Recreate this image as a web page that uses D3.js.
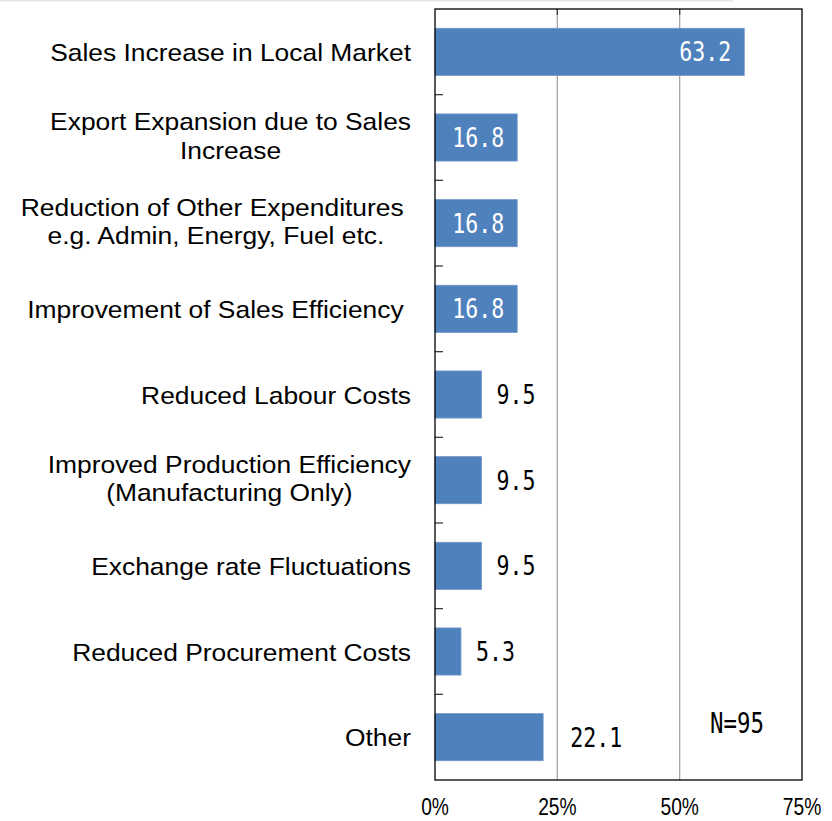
<!DOCTYPE html>
<html>
<head>
<meta charset="utf-8">
<script src="https://cdnjs.cloudflare.com/ajax/libs/d3/7.8.5/d3.min.js"></script>
<style>
  body { margin: 0; background: #fff; }
  svg { display: block; }
</style>
</head>
<body>
<div id="chart"></div>
<script>
var categories = [
    ["Sales Increase in Local Market"],
    ["Export Expansion due to Sales", "Increase"],
    ["Reduction of Other Expenditures ", "e.g. Admin, Energy, Fuel etc."],
    ["Improvement of Sales Efficiency "],
    ["Reduced Labour Costs"],
    ["Improved Production Efficiency", "(Manufacturing Only)"],
    ["Exchange rate Fluctuations"],
    ["Reduced Procurement Costs"],
    ["Other"]
];
var values = [63.2, 16.8, 16.8, 16.8, 9.5, 9.5, 9.5, 5.3, 22.1];
var xTicks = [0, 25, 50, 75];
var note = "N=95";

var margin = { top: 9, right: 30, bottom: 41, left: 435 },
    width = 832 - margin.left - margin.right,
    height = 821 - margin.top - margin.bottom;

var svg = d3.select("#chart")
    .append("svg")
    .attr("width", 832)
    .attr("height", 821);

// faint page edge at the top
svg.append("line")
    .attr("x1", 0).attr("x2", 733)
    .attr("y1", 0.5).attr("y2", 0.5)
    .attr("stroke", "#e8e8e8")
    .attr("stroke-width", 2);

var chart = svg.append("g")
    .attr("transform", "translate(" + margin.left + "," + margin.top + ")");

var data = values.map(function (v, i) { return { key: i, lines: categories[i], value: v }; });

var x = d3.scaleLinear()
    .domain([0, 75])
    .range([0, width]);

var y = d3.scaleBand()
    .domain(data.map(function (d) { return d.key; }))
    .range([0, height])
    .paddingInner(0.45)
    .paddingOuter(0.225);

// gridlines
chart.selectAll(".grid")
    .data(xTicks.slice(1, -1))
    .enter()
    .append("line")
    .attr("x1", function (d) { return x(d); })
    .attr("x2", function (d) { return x(d); })
    .attr("y1", 0)
    .attr("y2", height)
    .attr("stroke", "#a6a6a6")
    .attr("stroke-width", 1.3);

chart.selectAll(".gridtop")
    .data(xTicks.slice(1, -1))
    .enter()
    .append("line")
    .attr("x1", function (d) { return x(d); })
    .attr("x2", function (d) { return x(d); })
    .attr("y1", 0)
    .attr("y2", 6)
    .attr("stroke", "#404040")
    .attr("stroke-width", 1.3);

// bars
chart.selectAll(".bar")
    .data(data)
    .enter()
    .append("rect")
    .attr("x", x(0))
    .attr("y", function (d) { return y(d.key); })
    .attr("width", function (d) { return x(d.value) - x(0); })
    .attr("height", y.bandwidth())
    .attr("fill", "#4f81bd")
    .attr("stroke", "#7396c8")
    .attr("stroke-width", 0.8);

// category boundary ticks on the left axis
var step = y.step();
chart.selectAll(".ytick")
    .data(d3.range(1, data.length))
    .enter()
    .append("line")
    .attr("x1", 0)
    .attr("x2", 8)
    .attr("y1", function (i) { return y(i) - step * y.paddingInner() / 2; })
    .attr("y2", function (i) { return y(i) - step * y.paddingInner() / 2; })
    .attr("stroke", "#404040")
    .attr("stroke-width", 1.3);

// plot border
chart.append("rect")
    .attr("x", 0)
    .attr("y", 0)
    .attr("width", width)
    .attr("height", height)
    .attr("fill", "none")
    .attr("stroke", "#000")
    .attr("stroke-width", 1.3);

// value labels (narrow monospace look)
var numFont = "'DejaVu Sans Mono', monospace";
chart.selectAll(".val")
    .data(data)
    .enter()
    .append("text")
    .attr("transform", function (d, i) {
        var inside = i < 4;
        var px = inside ? x(d.value) - 13 : x(d.value) + (d.value > 20 ? 27 : 15);
        return "translate(" + px + "," + (y(d.key) + y.bandwidth() / 2 + 9.5) + ") scale(0.8,1)";
    })
    .attr("text-anchor", function (d, i) { return i < 4 ? "end" : "start"; })
    .attr("font-family", numFont)
    .attr("font-size", "27px")
    .attr("fill", function (d, i) { return i < 4 ? "#fff" : "#000"; })
    .text(function (d) { return d3.format(".1f")(d.value); });

// x tick labels
chart.selectAll(".xlab")
    .data(xTicks)
    .enter()
    .append("text")
    .attr("transform", function (d) { return "translate(" + x(d) + "," + (height + 35) + ") scale(0.8,1)"; })
    .attr("text-anchor", "middle")
    .attr("font-family", "'Liberation Sans', Arial, sans-serif")
    .attr("font-size", "24px")
    .attr("fill", "#000")
    .text(function (d) { return d + "%"; });

// N note
chart.append("text")
    .attr("transform", "translate(" + x(61.7) + "," + (y(data.length - 1) + 19) + ") scale(0.8,1)")
    .attr("text-anchor", "middle")
    .attr("font-family", numFont)
    .attr("font-size", "28px")
    .attr("fill", "#000")
    .text(note);

// category labels
var labelRight = -24, lineH = 28.5, fs = 24, sx = 1.1;
var labels = chart.selectAll(".cat")
    .data(data)
    .enter()
    .append("g")
    .attr("transform", function (d) {
        return "translate(" + labelRight + "," + (y(d.key) + y.bandwidth() / 2) + ") scale(" + sx + ",1)";
    });

labels.each(function (d) {
    var g = d3.select(this);
    var n = d.lines.length;
    var texts = g.selectAll("text")
        .data(d.lines)
        .enter()
        .append("text")
        .attr("font-family", "'Liberation Sans', Arial, sans-serif")
        .attr("font-size", fs + "px")
        .attr("fill", "#000")
        .style("white-space", "pre")
        .attr("y", function (t, i) { return (i - (n - 1) / 2) * lineH + (n > 1 ? 7 : 9); })
        .text(function (t) { return t; });
    var widths = [];
    texts.each(function () { widths.push(this.getComputedTextLength()); });
    var w = d3.max(widths);
    texts.attr("text-anchor", "middle").attr("x", -w / 2);
});
</script>
</body>
</html>
